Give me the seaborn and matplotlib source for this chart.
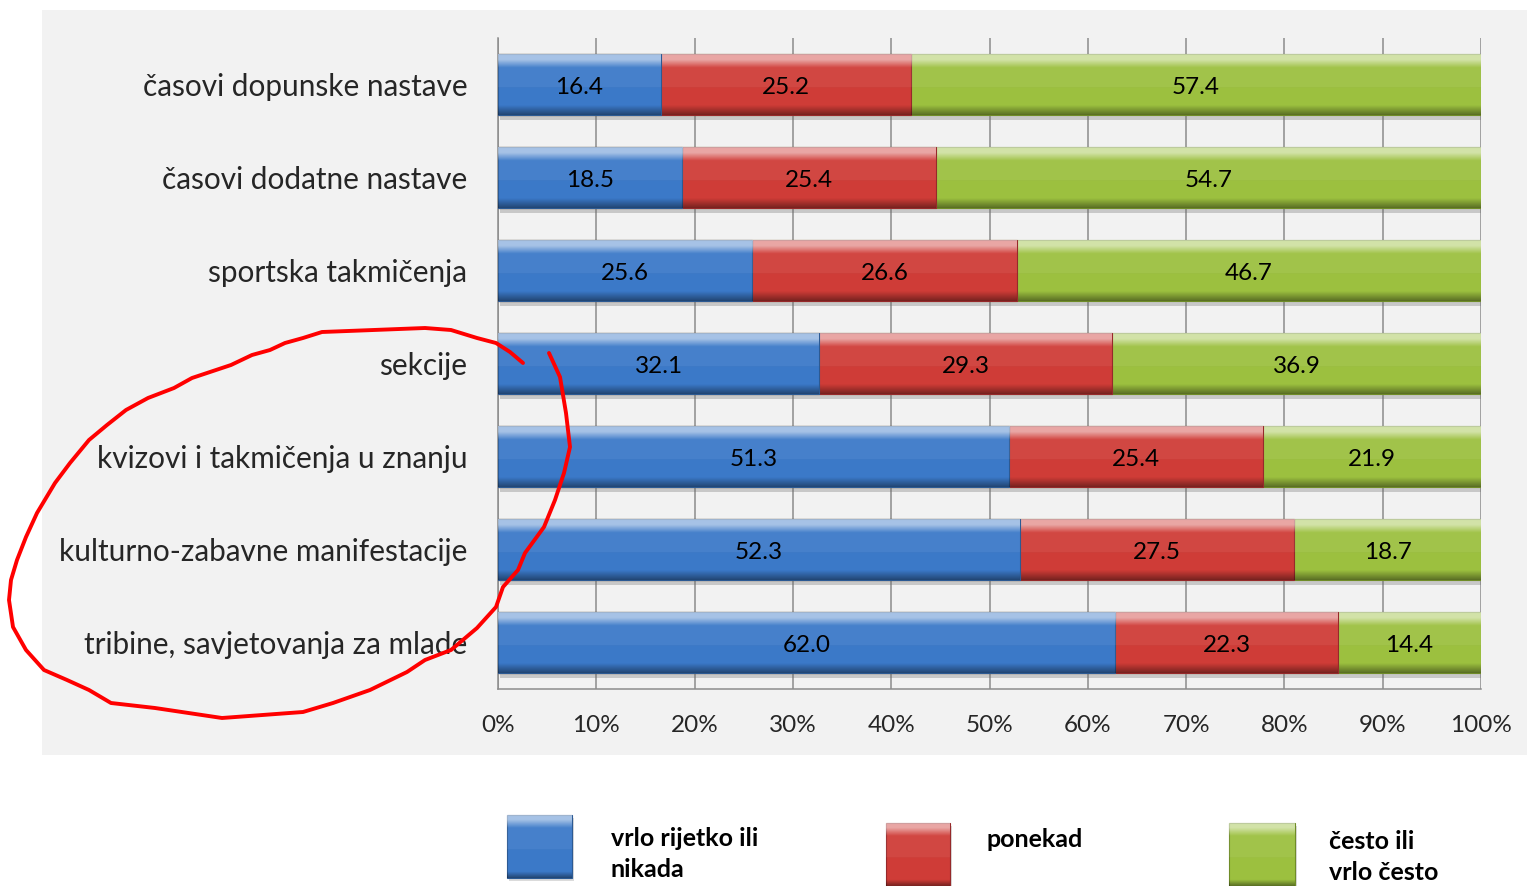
import numpy as np
import pandas as pd
import matplotlib
matplotlib.use("Agg")
import matplotlib.pyplot as plt
from matplotlib.patches import Rectangle
from matplotlib import patheffects as pe
import seaborn as sns

# ---- data -------------------------------------------------------------
categories = [
    "časovi dopunske nastave",
    "časovi dodatne nastave",
    "sportska takmičenja",
    "sekcije",
    "kvizovi i takmičenja u znanju",
    "kulturno-zabavne manifestacije",
    "tribine, savjetovanja za mlade",
]
rarely = [16.4, 18.5, 25.6, 32.1, 51.3, 52.3, 62.0]
sometimes = [25.2, 25.4, 26.6, 29.3, 25.4, 27.5, 22.3]
often = [57.4, 54.7, 46.7, 36.9, 21.9, 18.7, 14.4]
series_names = ["vrlo rijetko ili\nnikada", "ponekad", "često ili\nvrlo često"]
x_ticks = [0, 10, 20, 30, 40, 50, 60, 70, 80, 90, 100]
x_tick_labels = ["0%", "10%", "20%", "30%", "40%", "50%", "60%", "70%", "80%", "90%", "100%"]

# ---- style ------------------------------------------------------------
sns.set_style("white")
plt.rcParams["font.family"] = ["Lato", "DejaVu Sans"]

W, H = 1527, 886
base_colors = ["#3b79c8", "#cf3c37", "#9cc03f"]
edge_colors = ["#2c5a93", "#96292a", "#6f8c27"]

df = pd.DataFrame({"category": categories, "s0": rarely, "s1": sometimes, "s2": often})
raw = df[["s0", "s1", "s2"]].to_numpy()
share = raw / raw.sum(axis=1, keepdims=True) * 100.0
cum = np.cumsum(share, axis=1)

fig = plt.figure(figsize=(W / 100, H / 100), dpi=100)
fig.patch.set_facecolor("white")

# pixel-space helper axes behind and in front of the chart
bg = fig.add_axes([0, 0, 1, 1], zorder=0)
bg.set_xlim(0, W)
bg.set_ylim(H, 0)
bg.axis("off")
bg.add_patch(Rectangle((42, 10), W - 42, 745, facecolor="#f2f2f2", edgecolor="none"))

ax = fig.add_axes([498 / W, 1 - 689 / H, 983 / W, 651 / H], zorder=1)
ax.set_facecolor("none")


def bevel_image(n=120, top_band=0.09, bottom_band=0.16):
    """Vertical light/dark overlay giving the bars a bevelled look."""
    t = np.linspace(0, 1, n)
    img = np.zeros((n, 1, 4))
    light = np.where(t < top_band, 0.55,
                     np.clip(0.55 - (t - top_band) / 0.12 * 0.45, 0.06, 1))
    light = np.where(t > 0.55, 0.0, light)
    dark = np.clip((t - (1 - bottom_band)) / bottom_band, 0, 1) * 0.42
    is_light = light > dark
    for c in range(3):
        img[:, 0, c] = np.where(is_light, 1.0, 0.0)
    img[:, 0, 3] = np.where(is_light, light, dark)
    return img


grad = bevel_image()
grad_legend = bevel_image(top_band=0.07, bottom_band=0.10)

# stacked layers drawn longest first so shorter cumulative bars sit on top
for layer in [2, 1, 0]:
    n_before = len(ax.patches)
    layer_df = pd.DataFrame({"category": categories, "value": cum[:, layer]})
    sns.barplot(
        data=layer_df, x="value", y="category", orient="h",
        color=base_colors[layer], saturation=1, width=0.65,
        edgecolor=edge_colors[layer], linewidth=0.8,
        zorder=2 + (2 - layer), ax=ax,
    )
    new_patches = ax.patches[n_before:]
    for p in new_patches:
        if layer == 2:
            p.set_path_effects([
                pe.SimplePatchShadow(offset=(1.5, -3.5), shadow_rgbFace="#6a6a6a", alpha=0.3),
                pe.Normal(),
            ])
        x0, y0 = p.get_x(), p.get_y()
        w, h = p.get_width(), p.get_height()
        im = ax.imshow(grad, extent=(x0, x0 + w, y0 + h, y0), aspect="auto",
                       interpolation="bilinear", zorder=2 + (2 - layer) + 0.5)
        im.set_clip_path(p)

# value labels at segment centres
for i in range(len(categories)):
    for j in range(3):
        centre = cum[i, j] - share[i, j] / 2
        ax.text(centre, i + 0.035, f"{raw[i, j]:.1f}", ha="center", va="center",
                fontsize=17.5, color="black", zorder=10)

ax.set_xlim(0, 100)
ax.set_ylim(6.5, -0.5)
ax.set_xticks(x_ticks)
ax.set_xticklabels(x_tick_labels)
ax.set_xlabel("")
ax.set_ylabel("")
ax.grid(axis="x", color="#8c8c8c", linewidth=1.1, zorder=0)
ax.grid(axis="y", visible=False)
ax.set_axisbelow(True)
for side in ["top", "right"]:
    ax.spines[side].set_visible(False)
for side in ["left", "bottom"]:
    ax.spines[side].set_color("#8c8c8c")
    ax.spines[side].set_linewidth(1.1)
ax.tick_params(axis="y", length=0, pad=22, labelsize=21.4)
ax.tick_params(axis="x", length=0, pad=19, labelsize=17.5)

# legend built in pixel space
ov = fig.add_axes([0, 0, 1, 1], zorder=3)
ov.set_xlim(0, W)
ov.set_ylim(H, 0)
ov.axis("off")
ov.set_facecolor("none")

legend_boxes = [(507, 815, 65, 63), (886, 823, 64, 70), (1229, 823, 66, 70)]
legend_text_pos = [(611, 827), (987, 828), (1329, 830)]
for k, ((lx, ly, lw, lh), (tx, ty)) in enumerate(zip(legend_boxes, legend_text_pos)):
    r = Rectangle((lx, ly), lw, lh, facecolor=base_colors[k], edgecolor=edge_colors[k], linewidth=0.8,
                  path_effects=[pe.SimplePatchShadow(offset=(1.5, -2.5), shadow_rgbFace="#888888", alpha=0.3),
                                pe.Normal()])
    ov.add_patch(r)
    im = ov.imshow(grad_legend, extent=(lx, lx + lw, ly + 63, ly), aspect="auto",
                   interpolation="bilinear", zorder=r.get_zorder() + 0.1)
    im.set_clip_path(r)
    ov.text(tx, ty, series_names[k], ha="left", va="top", fontsize=18,
            fontweight="bold", linespacing=1.42, color="black")

# hand-drawn highlight around the lower categories
loop_x = [523, 510, 496, 477, 451, 425, 322, 303, 285, 270, 252, 231, 207, 192, 174, 148, 126, 107,
          89, 70, 55, 37, 26, 17, 11, 9, 13, 26, 44, 67, 89, 111, 155, 222, 303, 333, 370, 407,
          425, 451, 477, 496, 503, 518, 525, 544, 555, 564, 570, 566, 560, 549]
loop_y = [363, 352, 343, 338, 330, 328, 332, 338, 343, 350, 355, 365, 373, 378, 388, 398, 410, 425,
          440, 463, 483, 513, 537, 560, 580, 600, 627, 650, 670, 680, 690, 703, 708, 718, 712, 703,
          690, 672, 660, 650, 628, 607, 587, 570, 553, 527, 500, 473, 447, 413, 377, 353]
ov.plot(loop_x, loop_y, color="#ff0000", linewidth=2.8, solid_joinstyle="round",
        solid_capstyle="round")
ov.set_xlim(0, W)
ov.set_ylim(H, 0)

fig.savefig("out.png", dpi=100)
